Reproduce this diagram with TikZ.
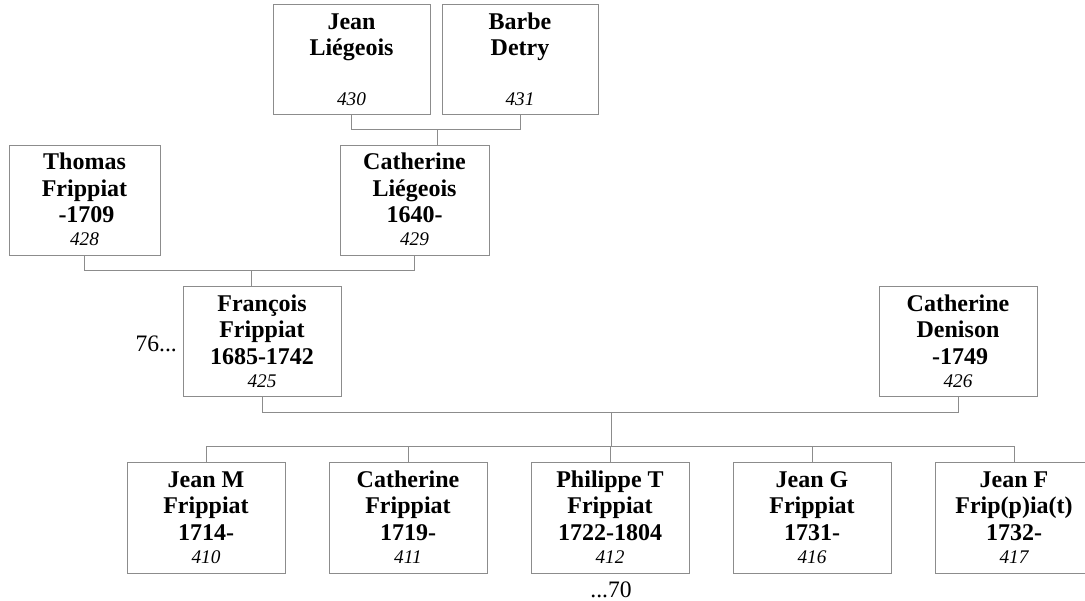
\documentclass[tikz,border=0pt]{standalone}
\usepackage{fontspec}
\setmainfont{Liberation Serif}
\begin{document}
\begin{tikzpicture}[x=1pt,y=-1pt,
  pbox/.style={draw=linegray,line width=1pt,minimum width=157pt,minimum height=110pt,inner sep=0pt,fill=white},
  conn/.style={draw=linegray,line width=1pt},
  bl/.style={anchor=base,inner sep=0pt,font=\fontsize{24}{26}\selectfont\bfseries},
  nl/.style={anchor=base,inner sep=0pt,font=\fontsize{19.3}{22}\selectfont\itshape},
  pl/.style={inner sep=0pt,font=\fontsize{23.6}{26}\selectfont}]
\definecolor{linegray}{RGB}{140,140,140}
\useasboundingbox (0,0) rectangle (1085,601);
\newcommand\personbox[8]{%
  \node[pbox,minimum width=#3] (#1) at (#2) {};
  \node[bl] (#1-a) at ([yshift=-25]#1.north) {#4};
  \node[bl] (#1-b) at ([yshift=-51.5]#1.north) {#5};
  \node[bl] (#1-c) at ([yshift=-78]#1.north) {#6};
  \node[nl] (#1-n) at ([yshift=-100.8]#1.north) {#7};
}
% generation 1
\personbox{J430}{351.5,60}{157pt}{Jean}{Liégeois}{}{430}{}
\personbox{B431}{520,60}{156pt}{Barbe}{Detry}{}{431}{}
% generation 2
\personbox{T428}{84.5,200.5}{151pt}{Thomas}{Frippiat}{\,-1709}{428}{}
\personbox{C429}{414.5,200.5}{149pt}{Catherine}{Liégeois}{1640-}{429}{}
% generation 3
\personbox{F425}{262,342}{158pt}{François}{Frippiat}{1685-1742}{425}{}
\personbox{D426}{958,342}{158pt}{Catherine}{Denison}{\,-1749}{426}{}
% children
\personbox{M410}{206,518}{158pt}{Jean M}{Frippiat}{1714-}{410}{}
\personbox{C411}{408,518}{158pt}{Catherine}{Frippiat}{1719-}{411}{}
\personbox{P412}{610,518}{158pt}{Philippe T}{Frippiat}{1722-1804}{412}{}
\personbox{G416}{812,518}{158pt}{Jean G}{Frippiat}{1731-}{416}{}
\personbox{F417}{1014,518}{158pt}{Jean F}{Frip(p)ia(t)}{1732-}{417}{}
% side labels
\node[pl,anchor=base east] (ref76) at (177,351.7) {76...};
\node[pl,anchor=base] (ref70) at (611,597.5) {...70};
% connectors
\coordinate (m1) at (437,130);
\draw[conn] (J430.south) |- (B431.south |- m1) -- (B431.south);
\draw[conn] (m1) -- (m1 |- C429.north);
\coordinate (m2) at (251,271);
\draw[conn] (T428.south) |- (C429.south |- m2) -- (C429.south);
\draw[conn] (m2) -- (m2 |- F425.north);
\coordinate (m3) at (611.5,413);
\draw[conn] (F425.south) |- (D426.south |- m3) -- (D426.south);
\coordinate (kids) at (611.5,447);
\draw[conn] (m3) -- (kids);
\draw[conn] (M410.north) |- (kids);
\draw[conn] (F417.north) |- (kids);
\draw[conn] (C411.north) -- (C411.north |- kids);
\draw[conn] (P412.north) -- (P412.north |- kids);
\draw[conn] (G416.north) -- (G416.north |- kids);
\end{tikzpicture}
\end{document}
